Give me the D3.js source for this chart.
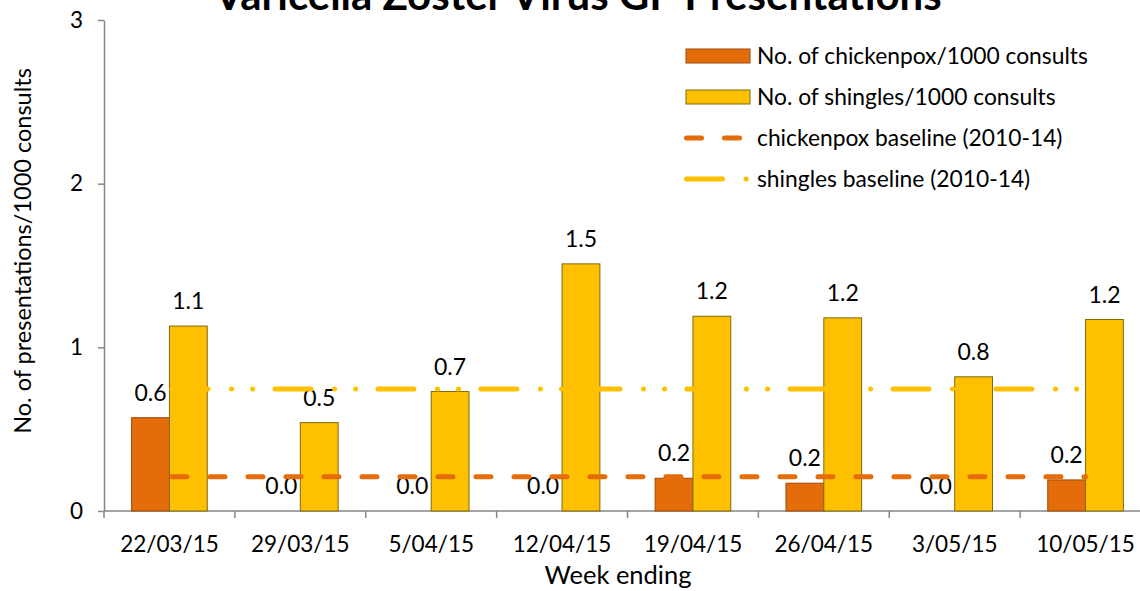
<!DOCTYPE html>
<html>
<head>
<meta charset="utf-8">
<title>Varicella Zoster Virus GP Presentations</title>
<script src="https://cdn.jsdelivr.net/npm/d3@7"></script>
<style>
  body { margin: 0; background: #fff; }
  svg { display: block; font-family: Lato, "Open Sans", sans-serif; }
  .axis path, .axis line { stroke: #868686; stroke-width: 1.5; }
  .axis text { fill: #000; font-size: 22.5px; font-family: Lato, sans-serif; }
</style>
</head>
<body>
<div id="chart"></div>
<script>
// week ending dates
var weeks = ["22/03/15", "29/03/15", "5/04/15", "12/04/15", "19/04/15", "26/04/15", "3/05/15", "10/05/15"];
// rates per 1000 consults
var chickenpox = [0.57, 0, 0, 0, 0.2, 0.17, 0, 0.19];
var shingles = [1.13, 0.54, 0.73, 1.51, 1.19, 1.18, 0.82, 1.17];
// 2010-14 baselines
var chickenpoxBaseline = 0.21;
var shinglesBaseline = 0.745;
var yTicks = [0, 1, 2, 3];
var seriesNames = ["No. of chickenpox/1000 consults", "No. of shingles/1000 consults",
                   "chickenpox baseline (2010-14)", "shingles baseline (2010-14)"];

window.onload = function() {
    var w = 1140, h = 591;
    var orange = "#E46C0A", yellow = "#FFC000";

    var svg = d3.select("#chart").append("svg")
        .attr("width", w)
        .attr("height", h);

    // scales
    var x = d3.scaleBand()
        .domain(weeks)
        .range([104, 1151])
        .padding(0);

    var x1 = d3.scaleBand()
        .domain(["chickenpox", "shingles"])
        .range([0, x.bandwidth()])
        .paddingInner(0)
        .paddingOuter(0.73);

    var y = d3.scaleLinear()
        .domain([0, 3])
        .range([511, 20]);

    // title (cut off at the top like the original)
    svg.append("text")
        .attr("x", 578)
        .attr("y", 10)
        .attr("text-anchor", "middle")
        .style("font-size", "42px")
        .style("font-weight", "bold")
        .text("Varicella Zoster Virus GP Presentations");

    // y axis
    svg.append("g")
        .attr("class", "axis")
        .attr("transform", "translate(104,0)")
        .call(d3.axisLeft(y).tickValues(yTicks).tickFormat(d3.format("d"))
            .tickSize(6).tickPadding(15).tickSizeOuter(0));

    // x axis: labels centred, ticks on category boundaries
    var xAxis = svg.append("g")
        .attr("class", "axis")
        .attr("transform", "translate(0,511)")
        .call(d3.axisBottom(x).tickSize(0).tickPadding(25));
    xAxis.select(".domain").attr("d", "M104,0H1140");
    xAxis.selectAll(".bound")
        .data(weeks.map(function(d) { return x(d); }).concat([x.range()[1]]))
        .enter().append("line")
        .attr("class", "bound")
        .attr("x1", function(d) { return d; })
        .attr("x2", function(d) { return d; })
        .attr("y1", 0)
        .attr("y2", 7);

    // axis titles
    svg.append("text")
        .attr("transform", "translate(31," + 251 + ") rotate(-90)")
        .attr("text-anchor", "middle")
        .style("font-size", "23.5px")
        .text("No. of presentations/1000 consults");

    svg.append("text")
        .attr("x", 618)
        .attr("y", 584)
        .attr("text-anchor", "middle")
        .style("font-size", "25.5px")
        .text("Week ending");

    // bars
    var rows = weeks.map(function(d, i) {
        return {week: d, chickenpox: chickenpox[i], shingles: shingles[i]};
    });

    var groups = svg.selectAll(".grp")
        .data(rows)
        .enter().append("g")
        .attr("class", "grp")
        .attr("transform", function(d) { return "translate(" + x(d.week) + ",0)"; });

    var series = [
        {key: "chickenpox", fill: orange, stroke: "#9a4a08"},
        {key: "shingles", fill: yellow, stroke: "#7f6a10"}
    ];

    series.forEach(function(s) {
        groups.append("rect")
            .attr("x", x1(s.key))
            .attr("y", function(d) { return y(d[s.key]); })
            .attr("width", x1.bandwidth())
            .attr("height", function(d) { return y(0) - y(d[s.key]); })
            .attr("fill", s.fill)
            .attr("stroke", function(d) { return d[s.key] > 0 ? s.stroke : "none"; })
            .attr("stroke-width", 1);
    });

    // baselines
    var xFirst = x(weeks[0]) + x.bandwidth() / 2;
    var xLast = x(weeks[weeks.length - 1]) + x.bandwidth() / 2;

    svg.append("line")
        .attr("x1", xFirst + 2.5).attr("x2", xLast)
        .attr("y1", y(shinglesBaseline)).attr("y2", y(shinglesBaseline))
        .attr("stroke", yellow)
        .attr("stroke-width", 5)
        .attr("stroke-linecap", "round")
        .attr("stroke-dasharray", "36,23.5,0.1,21,0.1,22.3");

    svg.append("line")
        .attr("x1", xFirst + 2.5).attr("x2", xLast)
        .attr("y1", y(chickenpoxBaseline)).attr("y2", y(chickenpoxBaseline))
        .attr("stroke", orange)
        .attr("stroke-width", 5)
        .attr("stroke-linecap", "round")
        .attr("stroke-dasharray", "15,23");

    // data labels
    series.forEach(function(s) {
        groups.append("text")
            .attr("x", x1(s.key) + x1.bandwidth() / 2)
            .attr("y", function(d) { return y(d[s.key]) - 17; })
            .attr("text-anchor", "middle")
            .style("font-size", "23px")
            .text(function(d) { return d[s.key].toFixed(1); });
    });

    // legend
    var legend = svg.append("g").attr("transform", "translate(686,0)");
    var rowY = [56, 97, 138, 179];

    legend.append("rect").attr("x", 0).attr("y", rowY[0] - 7).attr("width", 64).attr("height", 14)
        .attr("fill", orange).attr("stroke", "#9a4a08");
    legend.append("rect").attr("x", 0).attr("y", rowY[1] - 7).attr("width", 64).attr("height", 14)
        .attr("fill", yellow).attr("stroke", "#7f6a10");
    legend.append("line").attr("x1", 0.5).attr("x2", 56).attr("y1", rowY[2]).attr("y2", rowY[2])
        .attr("stroke", orange).attr("stroke-width", 5).attr("stroke-linecap", "round")
        .attr("stroke-dasharray", "15,23");
    legend.append("line").attr("x1", 0.5).attr("x2", 62).attr("y1", rowY[3]).attr("y2", rowY[3])
        .attr("stroke", yellow).attr("stroke-width", 5).attr("stroke-linecap", "round")
        .attr("stroke-dasharray", "36,23.5,0.1,21,0.1,22.3");

    legend.selectAll(".ltxt")
        .data(seriesNames)
        .enter().append("text")
        .attr("class", "ltxt")
        .attr("x", 71)
        .attr("y", function(d, i) { return rowY[i] + 8; })
        .style("font-size", "22.8px")
        .text(function(d) { return d; });
};
</script>
</body>
</html>
